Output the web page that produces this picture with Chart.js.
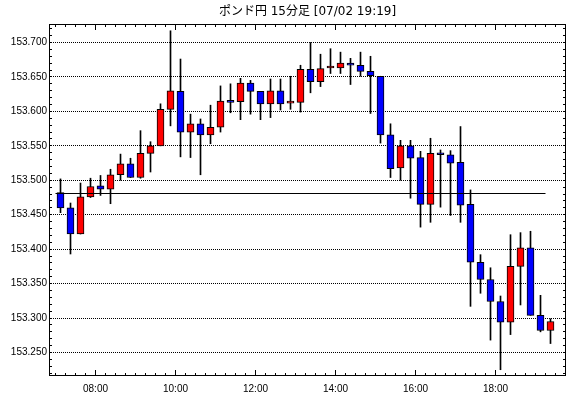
<!DOCTYPE html>
<html lang="ja">
<head>
<meta charset="utf-8">
<title>ポンド円 15分足</title>
<script src="https://cdn.jsdelivr.net/npm/chart.js@4.4.1/dist/chart.umd.min.js"></script>
<style>
  html, body { margin: 0; padding: 0; background: #fff; }
  #wrap { position: relative; width: 570px; height: 398px; }
</style>
</head>
<body>
<div id="wrap"><canvas id="chart"></canvas></div>
<script>
// ==== データ（チャートから読み取った値） ====
const TITLE = "ポンド円 15分足 [07/02 19:19]";

// 15分足の開始時刻
const times = [
  "07:00", "07:15", "07:30", "07:45", "08:00", "08:15", "08:30", "08:45",
  "09:00", "09:15", "09:30", "09:45", "10:00", "10:15", "10:30", "10:45",
  "11:00", "11:15", "11:30", "11:45", "12:00", "12:15", "12:30", "12:45",
  "13:00", "13:15", "13:30", "13:45", "14:00", "14:15", "14:30", "14:45",
  "15:00", "15:15", "15:30", "15:45", "16:00", "16:15", "16:30", "16:45",
  "17:00", "17:15", "17:30", "17:45", "18:00", "18:15", "18:30", "18:45",
  "19:00", "19:15"
];

const opens = [
  153.482, 153.460, 153.422, 153.476, 153.492, 153.487, 153.508, 153.524,
  153.504, 153.539, 153.550, 153.603, 153.629, 153.570, 153.582, 153.566,
  153.577, 153.614, 153.614, 153.641, 153.629, 153.611, 153.630, 153.612,
  153.613, 153.661, 153.643, 153.663, 153.663, 153.670, 153.667, 153.658,
  153.651, 153.566, 153.518, 153.550, 153.533, 153.465, 153.538, 153.537,
  153.526, 153.465, 153.381, 153.356, 153.324, 153.294, 153.375, 153.402,
  153.304, 153.282
];
const highs = [
  153.502, 153.467, 153.496, 153.503, 153.507, 153.516, 153.538, 153.532,
  153.572, 153.556, 153.611, 153.717, 153.676, 153.596, 153.589, 153.609,
  153.637, 153.640, 153.648, 153.645, 153.629, 153.647, 153.647, 153.651,
  153.667, 153.700, 153.683, 153.691, 153.686, 153.677, 153.686, 153.680,
  153.651, 153.582, 153.558, 153.558, 153.542, 153.561, 153.544, 153.543,
  153.578, 153.486, 153.392, 153.373, 153.332, 153.421, 153.424, 153.426,
  153.333, 153.299
];
const lows = [
  153.453, 153.393, 153.422, 153.475, 153.478, 153.466, 153.500, 153.504,
  153.503, 153.512, 153.550, 153.579, 153.534, 153.533, 153.508, 153.553,
  153.570, 153.598, 153.588, 153.596, 153.588, 153.591, 153.602, 153.603,
  153.599, 153.627, 153.636, 153.655, 153.655, 153.639, 153.651, 153.597,
  153.554, 153.504, 153.500, 153.474, 153.432, 153.439, 153.461, 153.449,
  153.439, 153.317, 153.336, 153.268, 153.225, 153.276, 153.319, 153.304,
  153.280, 153.263
];
const closes = [
  153.460, 153.422, 153.476, 153.491, 153.487, 153.508, 153.524, 153.504,
  153.539, 153.550, 153.603, 153.630, 153.570, 153.582, 153.566, 153.577,
  153.615, 153.613, 153.641, 153.629, 153.611, 153.630, 153.611, 153.612,
  153.661, 153.643, 153.662, 153.663, 153.670, 153.667, 153.658, 153.652,
  153.566, 153.517, 153.550, 153.532, 153.465, 153.539, 153.537, 153.525,
  153.464, 153.381, 153.356, 153.324, 153.294, 153.375, 153.402, 153.304,
  153.282, 153.295
];

// 基準線（横線）
const refLevel = 153.4808;
const refFrom = "07:00";
const refTo   = "19:15";

// 目盛り
const priceTicks = [153.25, 153.30, 153.35, 153.40, 153.45, 153.50, 153.55, 153.60, 153.65, 153.70];
const timeTicks  = ["08:00", "10:00", "12:00", "14:00", "16:00", "18:00"];

// ==== 表示設定 ====
const BAR_MIN = 15;           // 足の長さ(分)
const X_MIN = 410.25;         // 表示範囲(分)
const X_MAX = 1185.75;
const Y_MIN = 153.21589;
const Y_MAX = 153.72686;
const UP_COLOR = "#ff0000";
const DOWN_COLOR = "#0000ff";
const FONT = "'Liberation Sans', Arial, sans-serif";

function toMin(s) { return Number(s.slice(0, 2)) * 60 + Number(s.slice(3, 5)); }
const centers = times.map(t => toMin(t) + BAR_MIN / 2);

// 枠と内向きの目盛り
const frameTicks = {
  id: "frameTicks",
  afterDraw(chart) {
    const { ctx, chartArea: a, scales: { x, y } } = chart;
    const majors = new Set(timeTicks.map(toMin));
    ctx.save();
    ctx.strokeStyle = "#000";
    ctx.lineWidth = 1;
    ctx.beginPath();
    for (let t = Math.ceil(x.min / BAR_MIN) * BAR_MIN; t <= x.max; t += BAR_MIN) {
      const px = Math.floor(x.getPixelForValue(t)) + 0.5;
      const len = majors.has(t) ? 6 : 3;
      ctx.moveTo(px, a.top); ctx.lineTo(px, a.top + len);
      ctx.moveTo(px, a.bottom); ctx.lineTo(px, a.bottom - len);
    }
    for (let k = Math.ceil(y.min * 100); k <= Math.floor(y.max * 100); k++) {
      const py = Math.floor(y.getPixelForValue(k / 100)) + 0.5;
      ctx.moveTo(a.left, py); ctx.lineTo(a.left + 3, py);
      ctx.moveTo(a.right, py); ctx.lineTo(a.right - 3, py);
    }
    ctx.stroke();
    ctx.strokeRect(a.left + 0.5, a.top + 0.5, a.width - 1, a.height - 1);
    ctx.restore();
  }
};

const ctx = document.getElementById("chart").getContext("2d");
new Chart(ctx, {
  type: "bar",
  data: {
    datasets: [
      {
        type: "line",
        label: "基準",
        data: [{ x: toMin(refFrom), y: refLevel }, { x: toMin(refTo), y: refLevel }],
        borderColor: "#000",
        borderWidth: 1,
        pointRadius: 0,
        order: 0
      },
      {
        label: "実体",
        data: centers.map((c, i) => ({ x: c, y: [opens[i], closes[i]] })),
        backgroundColor: closes.map((c, i) => c >= opens[i] ? UP_COLOR : DOWN_COLOR),
        borderColor: "#000",
        borderWidth: 1,
        borderSkipped: false,
        barThickness: 7,
        maxBarThickness: 7,
        minBarLength: 2,
        grouped: false,
        order: 1
      },
      {
        label: "ヒゲ",
        data: centers.map((c, i) => ({ x: c, y: [lows[i], highs[i]] })),
        backgroundColor: "#000",
        borderWidth: 0,
        barThickness: 1,
        maxBarThickness: 1,
        grouped: false,
        order: 2
      }
    ]
  },
  options: {
    responsive: true,
    maintainAspectRatio: false,
    animation: false,
    events: [],
    layout: { padding: { left: 0, right: 4, top: 0, bottom: 0 } },
    plugins: {
      legend: { display: false },
      tooltip: { enabled: false },
      title: {
        display: true,
        text: TITLE,
        fullSize: false,
        color: "#000",
        font: { family: "'DejaVu Sans', 'Noto Sans CJK JP', sans-serif", size: 12, weight: "normal", lineHeight: "14px" },
        padding: { top: 5, bottom: 5 }
      }
    },
    scales: {
      x: {
        type: "linear",
        min: X_MIN,
        max: X_MAX,
        offset: false,
        grid: { display: false },
        border: { display: false },
        afterBuildTicks: s => { s.ticks = timeTicks.map(t => ({ value: toMin(t) })); },
        afterFit: s => { s.height = 22; },
        ticks: {
          autoSkip: false,
          maxRotation: 0,
          padding: -1,
          color: "#000",
          font: { family: FONT, size: 10 },
          callback: (v, i) => timeTicks[i]
        }
      },
      y: {
        type: "linear",
        min: Y_MIN,
        max: Y_MAX,
        grid: { color: "#000", lineWidth: 1, drawTicks: false },
        border: { display: false, dash: [1, 1] },
        afterBuildTicks: s => { s.ticks = priceTicks.map(v => ({ value: v })); },
        afterFit: s => { s.width = 49; },
        ticks: {
          padding: 2,
          color: "#000",
          font: { family: FONT, size: 10 },
          callback: v => v.toFixed(3)
        }
      }
    }
  },
  plugins: [frameTicks]
});
</script>
</body>
</html>
